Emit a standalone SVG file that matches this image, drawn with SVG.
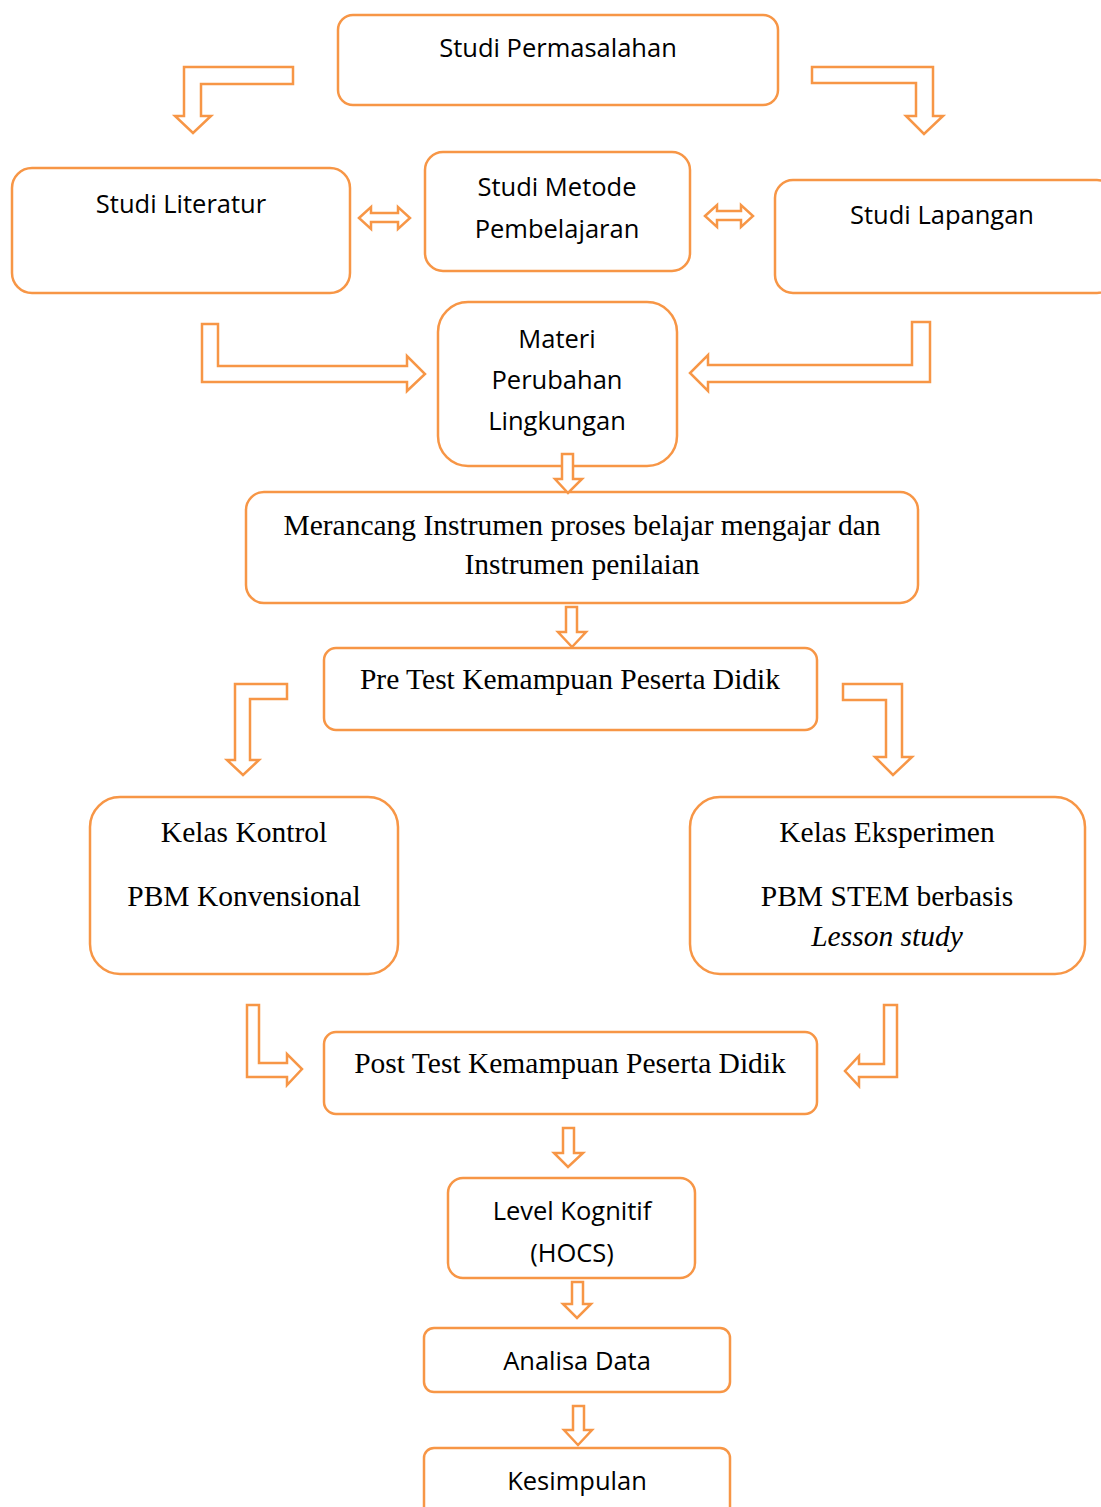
<svg xmlns="http://www.w3.org/2000/svg" width="1101" height="1507" viewBox="0 0 1101 1507">
<style>
.box{fill:#fff;stroke:#F79646;stroke-width:2.5}
.arr{fill:#fff;stroke:#F79646;stroke-width:2.5;stroke-linejoin:miter}
.s{font-family:"Open Sans","DejaVu Sans",sans-serif;font-size:25.5px;fill:#000;text-anchor:middle}
.t{font-family:"Liberation Serif","Times New Roman",serif;font-size:29.5px;fill:#000;text-anchor:middle}
</style>
<rect width="1101" height="1507" fill="#fff"/>
<g id="n1"><rect class="box" x="338" y="15" width="440" height="90" rx="15"/><text class="s" x="558" y="57">Studi Permasalahan</text></g>
<g id="n2"><rect class="box" x="12" y="168" width="338" height="125" rx="20"/><text class="s" x="181" y="213">Studi Literatur</text></g>
<g id="n3"><rect class="box" x="425" y="152" width="265" height="119" rx="18"/><text class="s" x="557" y="196">Studi Metode</text><text class="s" x="557" y="238">Pembelajaran</text></g>
<g id="n4"><rect class="box" x="775" y="180" width="340" height="113" rx="18"/><text class="s" x="942" y="224">Studi Lapangan</text></g>
<g id="n5"><rect class="box" x="438" y="302" width="239" height="164" rx="30"/><text class="s" x="557" y="348">Materi</text><text class="s" x="557" y="389">Perubahan</text><text class="s" x="557" y="430">Lingkungan</text></g>
<g id="n6"><rect class="box" x="246" y="492" width="672" height="111" rx="18"/><text class="t" x="582" y="535">Merancang Instrumen proses belajar mengajar dan</text><text class="t" x="582" y="574">Instrumen penilaian</text></g>
<g id="n7"><rect class="box" x="324" y="648" width="493" height="82" rx="12"/><text class="t" x="570" y="689">Pre Test Kemampuan Peserta Didik</text></g>
<g id="n8"><rect class="box" x="90" y="797" width="308" height="177" rx="30"/><text class="t" x="244" y="842">Kelas Kontrol</text><text class="t" x="244" y="906">PBM Konvensional</text></g>
<g id="n9"><rect class="box" x="690" y="797" width="395" height="177" rx="30"/><text class="t" x="887" y="842">Kelas Eksperimen</text><text class="t" x="887" y="906">PBM STEM berbasis</text><text class="t" x="887" y="946" font-style="italic">Lesson study</text></g>
<g id="n10"><rect class="box" x="324" y="1032" width="493" height="82" rx="12"/><text class="t" x="570" y="1073">Post Test Kemampuan Peserta Didik</text></g>
<g id="n11"><rect class="box" x="448" y="1178" width="247" height="100" rx="15"/><text class="s" x="572" y="1220">Level Kognitif</text><text class="s" x="572" y="1262">(HOCS)</text></g>
<g id="n12"><rect class="box" x="424" y="1328" width="306" height="64" rx="10"/><text class="s" x="577" y="1370">Analisa Data</text></g>
<g id="n13"><rect class="box" x="424" y="1448" width="306" height="80" rx="10"/><text class="s" x="577" y="1490">Kesimpulan</text></g>
<g id="connectors">
<path class="arr" d="M293,67 L184,67 L184,116 L175,116 L193,133 L211,116 L201,116 L201,84 L293,84 Z"/>
<path class="arr" d="M812,67 L933,67 L933,116 L943,116 L924,134 L906,116 L916,116 L916,83 L812,83 Z"/>
<path class="arr" d="M359,218 L371,207 L371,213 L398,213 L398,207 L410,218 L398,229 L398,222 L371,222 L371,229 Z"/>
<path class="arr" d="M705,216 L717,205 L717,211 L741,211 L741,205 L753,216 L741,227 L741,220 L717,220 L717,227 Z"/>
<path class="arr" d="M202,324 L218,324 L218,366 L407,366 L407,356 L425,374 L407,391 L407,382 L202,382 Z"/>
<path class="arr" d="M930,322 L912,322 L912,365 L708,365 L708,355 L690,373 L708,391 L708,382 L930,382 Z"/>
<path class="arr" d="M562,454 L573,454 L573,479 L582,479 L568,493 L555,479 L562,479 Z"/>
<path class="arr" d="M566,607 L577,607 L577,632 L586,632 L572,647 L558,632 L566,632 Z"/>
<path class="arr" d="M287,684 L287,699 L250,699 L250,760 L259,760 L243,775 L227,760 L235,760 L235,684 Z"/>
<path class="arr" d="M843,684 L902,684 L902,757 L912,757 L893,775 L875,757 L886,757 L886,700 L843,700 Z"/>
<path class="arr" d="M247,1005 L259,1005 L259,1063 L287,1063 L287,1054 L302,1069 L287,1085 L287,1077 L247,1077 Z"/>
<path class="arr" d="M897,1005 L884,1005 L884,1064 L859,1064 L859,1056 L845,1071 L859,1086 L859,1077 L897,1077 Z"/>
<path class="arr" d="M563,1128 L574,1128 L574,1153 L583,1153 L568,1167 L554,1153 L563,1153 Z"/>
<path class="arr" d="M572,1282 L583,1282 L583,1304 L591,1304 L577,1318 L563,1304 L572,1304 Z"/>
<path class="arr" d="M573,1406 L584,1406 L584,1430 L592,1430 L578,1445 L564,1430 L573,1430 Z"/>
</g>
</svg>
